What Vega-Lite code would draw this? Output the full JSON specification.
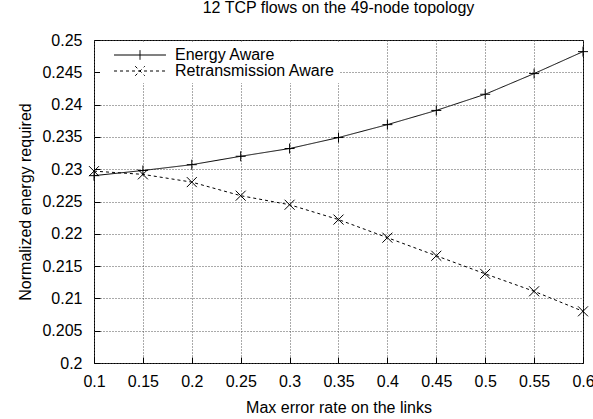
{
  "$schema": "https://vega.github.io/schema/vega-lite/v6.json",
  "width": 489,
  "height": 323,
  "autosize": {"type": "none"},
  "padding": {"left": 94, "top": 40, "right": 10, "bottom": 56},
  "background": "white",
  "title": {"text": "12 TCP flows on the 49-node topology", "fontSize": 16, "font": "Liberation Sans", "fontWeight": "normal", "color": "black", "offset": 16, "anchor": "middle"},
  "config": {
    "font": "Liberation Sans",
    "view": {"stroke": "black", "strokeWidth": 1},
    "axis": {
      "labelFont": "Liberation Sans", "labelFontSize": 16, "labelColor": "black",
      "titleFont": "Liberation Sans", "titleFontSize": 16, "titleFontWeight": "normal", "titleColor": "black",
      "grid": true, "gridColor": "#555", "gridDash": [1, 2], "gridWidth": 1, "gridOpacity": 1,
      "domain": false, "ticks": true, "tickSize": -6, "tickColor": "black", "tickWidth": 1,
      "labelFlush": false, "labelOverlap": false, "format": "~g"
    }
  },
  "data": {"values": [
    {"rate": 0.1, "energy": 0.2290, "series": "Energy Aware"},
    {"rate": 0.15, "energy": 0.2298, "series": "Energy Aware"},
    {"rate": 0.2, "energy": 0.2307, "series": "Energy Aware"},
    {"rate": 0.25, "energy": 0.2320, "series": "Energy Aware"},
    {"rate": 0.3, "energy": 0.2332, "series": "Energy Aware"},
    {"rate": 0.35, "energy": 0.2349, "series": "Energy Aware"},
    {"rate": 0.4, "energy": 0.2369, "series": "Energy Aware"},
    {"rate": 0.45, "energy": 0.2391, "series": "Energy Aware"},
    {"rate": 0.5, "energy": 0.2416, "series": "Energy Aware"},
    {"rate": 0.55, "energy": 0.2448, "series": "Energy Aware"},
    {"rate": 0.6, "energy": 0.2482, "series": "Energy Aware"},
    {"rate": 0.1, "energy": 0.2297, "series": "Retransmission Aware"},
    {"rate": 0.15, "energy": 0.2292, "series": "Retransmission Aware"},
    {"rate": 0.2, "energy": 0.2280, "series": "Retransmission Aware"},
    {"rate": 0.25, "energy": 0.2259, "series": "Retransmission Aware"},
    {"rate": 0.3, "energy": 0.2245, "series": "Retransmission Aware"},
    {"rate": 0.35, "energy": 0.2222, "series": "Retransmission Aware"},
    {"rate": 0.4, "energy": 0.2194, "series": "Retransmission Aware"},
    {"rate": 0.45, "energy": 0.2166, "series": "Retransmission Aware"},
    {"rate": 0.5, "energy": 0.2138, "series": "Retransmission Aware"},
    {"rate": 0.55, "energy": 0.2111, "series": "Retransmission Aware"},
    {"rate": 0.6, "energy": 0.2080, "series": "Retransmission Aware"}
  ]},
  "encoding": {
    "x": {"field": "rate", "type": "quantitative",
      "scale": {"domain": [0.1, 0.6], "nice": false, "zero": false},
      "axis": {"title": "Max error rate on the links", "values": [0.1, 0.15, 0.2, 0.25, 0.3, 0.35, 0.4, 0.45, 0.5, 0.55, 0.6], "labelPadding": 16, "titlePadding": 10}},
    "y": {"field": "energy", "type": "quantitative",
      "scale": {"domain": [0.2, 0.25], "nice": false, "zero": false},
      "axis": {"title": "Normalized energy required", "values": [0.2, 0.205, 0.21, 0.215, 0.22, 0.225, 0.23, 0.235, 0.24, 0.245, 0.25], "labelPadding": 18, "titlePadding": 8}}
  },
  "layer": [
    {
      "mark": {"type": "line", "color": "black", "strokeWidth": 1},
      "encoding": {
        "strokeDash": {"field": "series", "type": "nominal",
          "scale": {"domain": ["Energy Aware", "Retransmission Aware"], "range": [[1, 0], [3, 3]]},
          "legend": {
            "title": null, "orient": "none", "legendX": 6, "legendY": 3,
            "labelFont": "Liberation Sans", "labelFontSize": 16, "labelColor": "black",
            "symbolSize": 144, "symbolStrokeColor": "black", "symbolStrokeWidth": 1, "symbolFillColor": "transparent",
            "symbolOffset": 28, "labelOffset": 27, "rowPadding": 0, "fillColor": "white", "padding": 4,
            "encode": {"symbols": {"update": {"shape": {"signal": "datum.value === 'Energy Aware' ? 'M-4.33,0L4.33,0M0,-0.8L0,0.8' : 'M-4.33,0L4.33,0M-0.8,-0.8L0.8,0.8M-0.8,0.8L0.8,-0.8'"}}}}
          }}
      }
    },
    {
      "transform": [{"filter": "datum.series === 'Energy Aware'"}],
      "mark": {"type": "point", "filled": false, "stroke": "black", "strokeWidth": 1, "size": 100, "opacity": 1, "shape": "M-1,0L1,0M0,-1L0,1"}
    },
    {
      "transform": [{"filter": "datum.series === 'Retransmission Aware'"}],
      "mark": {"type": "point", "filled": false, "stroke": "black", "strokeWidth": 1, "size": 100, "opacity": 1, "shape": "M-1,-1L1,1M-1,1L1,-1"}
    }
  ]
}
